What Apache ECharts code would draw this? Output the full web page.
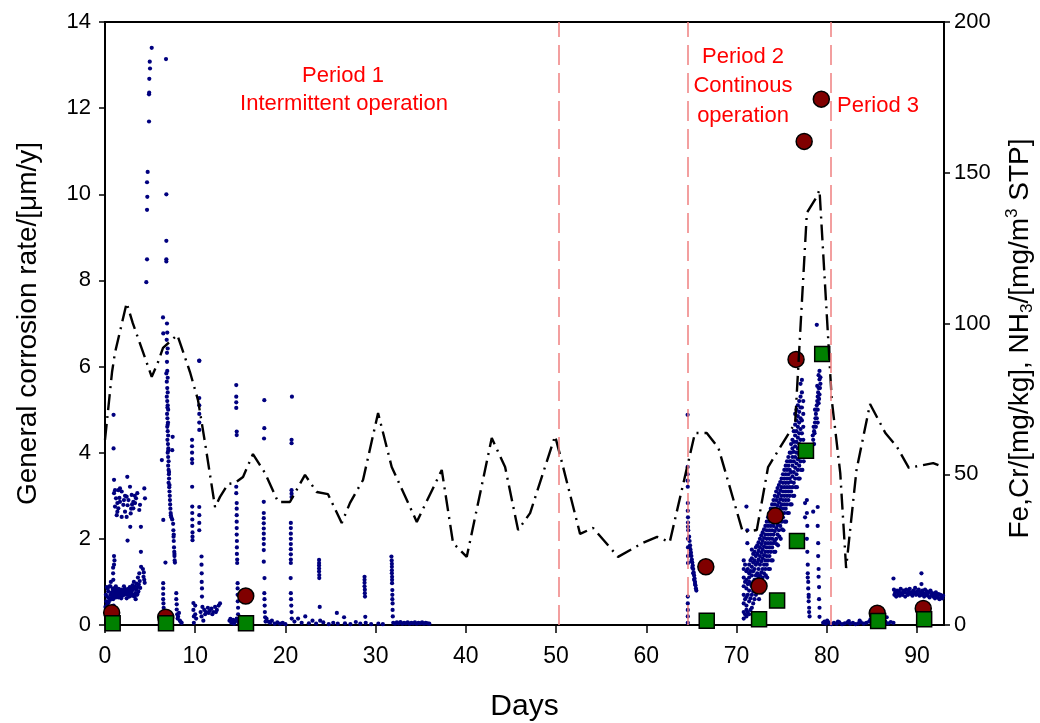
<!DOCTYPE html>
<html lang="en" style="height: 100%">

<head>
  <meta charset="utf-8">
</head>

<body style="height: 100%; margin: 0; background: #fff">
  <div id="container" style="width: 1040px; height: 723px"></div>

  <script type="text/javascript" src="https://cdn.jsdelivr.net/npm/echarts@6.0.0/dist/echarts.min.js"></script>
  <script type="text/javascript">
    // axis ticks
    var xTicks = [0, 10, 20, 30, 40, 50, 60, 70, 80, 90];

    // period boundaries (days)
    var periodBounds = [50.3, 64.55, 80.45];

    // NH3 (right axis), dash-dot line
    var nh3Days = [0, 0.78, 1.1, 2.4, 3.07, 5.18, 5.88, 6.43, 7.39, 8.02, 9.42, 10.31, 11.09, 12.2, 12.75, 13.64,
      14.41, 15.3, 16.4, 17.74, 19.18, 20.5, 22.17, 23.47, 24.72, 26.24, 27.16, 28.6, 30.27, 31.78, 34.56, 37.33,
      38.58, 40.1, 42.87, 44.35, 45.79, 47.12, 49.89, 50.44, 52.66, 54.1, 56.87, 59.6, 61.2, 62.6, 65.4, 66.7,
      68.0, 70.7, 72.25, 73.5, 76.5, 77.8, 78.8, 79.2, 80.56, 81.5, 82.15, 83.3, 84.8, 86.5, 87.8, 89.1, 91.8, 92.9];
    var nh3Vals = [61.4, 83.9, 90.2, 106.8, 100.2, 82.3, 87.2, 91.9, 94.5, 96.2, 83.9, 74.6, 60.4, 39.1, 42.5, 46.8,
      47.1, 49.1, 56.7, 50.4, 40.8, 40.8, 49.8, 44.1, 43.4, 33.8, 40.5, 48.1, 70.3, 52.4, 34.2, 51.4,
      27.2, 22.6, 62, 52.4, 31.5, 37.1, 62.7, 56.4, 30.2, 32.2, 22.6, 27.2, 29.2, 27.5, 63.7, 63.7,
      58.7, 30.8, 31.5, 52.4, 67, 136.7, 141.6, 144.3, 74.6, 50.4, 18.9, 51.4, 73.3, 63.7, 59, 52.1, 53.7, 52.4];

    // Fe (right axis), circles
    var feDays = [0.74, 6.73, 15.6, 66.6, 72.5, 74.3, 76.6, 77.5, 79.4, 85.6, 90.7];
    var feVals = [4.1, 2.6, 9.6, 19.3, 12.9, 36.2, 88.1, 160.4, 174.4, 3.9, 5.5];

    // Cr (right axis), squares
    var crDays = [0.85, 6.76, 15.63, 66.7, 72.5, 74.5, 76.7, 77.7, 79.5, 85.7, 90.8];
    var crVals = [0.56, 0.56, 0.56, 1.4, 1.9, 8.1, 27.9, 57.8, 89.9, 1.3, 1.9];

    // general corrosion rate (left axis), [day, rate]
    var ratePeriod1 = [
      [0.05, 0.42], [0.1, 0.7], [0.15, 0.55], [0.2, 0.88], [0.25, 0.48], [0.3, 0.65], [0.35, 0.78], [0.4, 0.52],
      [0.45, 0.62], [0.5, 0.9], [0.55, 0.58], [0.6, 0.7], [0.65, 1.0], [0.7, 0.62], [0.75, 0.76], [0.8, 0.68],
      [0.85, 0.84], [0.9, 0.6], [0.95, 0.74], [1.0, 0.8], [1.05, 0.66], [1.1, 0.86], [1.15, 0.7], [1.2, 0.64],
      [1.25, 0.78], [1.3, 0.72], [1.35, 0.82], [1.4, 0.68], [1.45, 0.76], [1.5, 0.84], [1.55, 0.7], [1.6, 0.74],
      [1.65, 0.8], [1.7, 0.66], [1.75, 0.76], [1.8, 0.82], [1.85, 0.72], [1.9, 0.78], [1.95, 0.68], [2.0, 0.74],
      [2.05, 0.8], [2.1, 0.7], [2.15, 0.76], [2.2, 0.84], [2.25, 0.72], [2.3, 0.78], [2.35, 0.82], [2.4, 0.74],
      [2.45, 0.7], [2.5, 0.8], [2.55, 0.76], [2.6, 0.84], [2.65, 0.72], [2.7, 0.8], [2.75, 0.88], [2.8, 0.76],
      [2.85, 0.82], [2.9, 0.74], [2.95, 0.86], [3.0, 0.8], [3.05, 0.92], [3.1, 0.7], [3.15, 0.84], [3.2, 1.0],
      [3.25, 0.66], [3.3, 0.9], [3.35, 0.74], [3.4, 0.6], [3.45, 0.82], [3.5, 0.96], [3.55, 0.7], [3.6, 0.88],
      [3.65, 1.1], [3.7, 0.78], [3.75, 0.94], [3.8, 1.2], [3.85, 1.02], [3.9, 0.86],
      [0.3, 0.85], [0.6, 0.9], [0.9, 0.82], [1.2, 0.9], [1.5, 0.64], [1.8, 0.62], [2.1, 0.9], [2.4, 0.62],
      [2.7, 0.66], [3.0, 0.68], [3.3, 0.7], [3.6, 0.72],
      [0.75, 0.15], [0.85, 0.3], [0.95, 0.45], [1.05, 0.2], [1.1, 0.1], [1.2, 0.35],
      [0.95, 4.88], [0.95, 4.1], [1.0, 3.37], [1.05, 1.5], [0.9, 1.33], [0.9, 1.2], [0.92, 1.05], [1.0, 1.6], [1.0, 1.4],
      [1.11, 3.13], [1.48, 3.13], [1.66, 3.17], [1.85, 3.1], [1.0, 3.06], [1.22, 2.94], [1.37, 2.83], [1.11, 2.75],
      [1.48, 2.71], [1.66, 2.86], [2.03, 2.79], [2.22, 3.0], [2.4, 2.98], [2.77, 3.21], [2.96, 3.02], [3.14, 2.86],
      [3.33, 2.83], [3.14, 2.71], [3.44, 2.94], [3.58, 3.06], [3.8, 2.67], [3.88, 2.79], [4.36, 3.17], [4.43, 2.94],
      [2.22, 2.63], [1.85, 2.51], [2.4, 2.51], [2.85, 2.59], [1.37, 2.63], [1.3, 2.55], [2.6, 2.9], [2.5, 2.78],
      [3.0, 2.8], [1.6, 2.95], [2.9, 2.7], [3.3, 3.0], [2.1, 2.9], [2.47, 3.44],
      [2.8, 2.28], [2.5, 1.96], [3.98, 1.7], [3.98, 2.28], [4.0, 1.35], [4.27, 1.12], [4.3, 1.22], [4.35, 1.05],
      [4.4, 0.98], [4.2, 1.3],
      [5.18, 13.4], [4.96, 13.08], [4.99, 12.92], [4.91, 12.68], [4.88, 12.32], [4.9, 12.36], [4.88, 11.69],
      [4.73, 10.52], [4.66, 10.28], [4.69, 9.94], [4.66, 9.64], [4.66, 8.49], [4.58, 7.96],
      [6.76, 13.14], [6.8, 10.0], [6.8, 8.92], [6.8, 8.49], [6.8, 8.44], [6.43, 7.14], [6.87, 7.0], [6.46, 6.77],
      [6.9, 6.79], [6.84, 6.62], [6.95, 6.42], [6.87, 6.32], [6.87, 6.11], [6.8, 5.84], [6.95, 5.74], [10.45, 6.13],
      [6.85, 5.65], [6.9, 5.5], [6.95, 5.4], [6.85, 5.3], [6.9, 5.2], [6.95, 5.1], [7.0, 5.0], [6.88, 4.9],
      [6.92, 4.8], [6.98, 4.7], [6.9, 4.6], [6.95, 4.5], [7.0, 4.4], [6.92, 4.3], [6.98, 4.2], [7.02, 4.1],
      [6.95, 4.0], [7.0, 3.9], [7.05, 3.8], [7.0, 3.7], [7.05, 3.6], [7.08, 3.5], [7.1, 3.4], [7.05, 3.3],
      [7.12, 3.2], [7.15, 3.1], [7.18, 3.0], [7.2, 2.9], [7.22, 2.8], [7.25, 2.7], [7.28, 2.6], [7.35, 2.5],
      [7.45, 2.45], [7.55, 2.35], [7.58, 2.2], [7.6, 2.05], [7.62, 1.95], [7.65, 1.8], [7.68, 1.7], [7.7, 1.6],
      [7.72, 1.5], [7.75, 1.45], [7.7, 1.65], [7.62, 2.1], [7.3, 2.55], [7.15, 3.25], [7.1, 3.55], [7.02, 4.05],
      [6.95, 4.65], [6.92, 5.05], [7.5, 4.37], [7.45, 4.06], [6.3, 3.83], [6.46, 2.44], [6.7, 1.45], [6.9, 5.9],
      [6.45, 0.97], [6.45, 0.85], [6.45, 0.72], [6.45, 0.6], [6.48, 0.5], [6.5, 0.4], [6.5, 0.3], [6.52, 0.2],
      [6.55, 0.12], [7.9, 0.74], [7.9, 0.6], [7.95, 0.48], [7.95, 0.36], [8.0, 0.25], [8.05, 0.15], [8.2, 0.28],
      [8.3, 0.1], [8.4, 0.07], [8.1, 0.2], [8.5, 0.05],
      [9.65, 4.3], [9.65, 4.15], [9.65, 4.0], [9.65, 3.85], [9.66, 3.76], [9.66, 3.21], [9.67, 2.75], [9.67, 2.6],
      [9.68, 2.45], [9.68, 2.3], [9.7, 2.15], [9.7, 2.05], [9.7, 1.97], [10.45, 6.14], [10.45, 5.27], [10.45, 5.1],
      [10.45, 4.9], [10.45, 4.7], [10.45, 4.53], [10.45, 2.74], [10.45, 2.55], [10.45, 2.37], [10.45, 2.2],
      [10.7, 1.59], [10.7, 1.4], [10.72, 1.2], [10.72, 1.0], [10.75, 0.85], [10.75, 0.66], [9.8, 0.51], [9.8, 0.35],
      [9.85, 0.2], [9.85, 0.05], [10.0, 0.45], [10.0, 0.25], [10.1, 0.15],
      [10.6, 0.3], [10.8, 0.42], [11.0, 0.35], [11.2, 0.3], [11.4, 0.4], [11.6, 0.33], [11.8, 0.38], [12.0, 0.3],
      [12.2, 0.42], [12.4, 0.35], [12.6, 0.45], [12.75, 0.5], [11.1, 0.25], [11.5, 0.28], [11.9, 0.25], [12.3, 0.3],
      [10.7, 0.2], [10.9, 0.1],
      [13.8, 0.1], [14.0, 0.05], [14.2, 0.12], [14.4, 0.08], [14.6, 0.15], [14.8, 0.06], [15.0, 0.1], [15.2, 0.04],
      [13.9, 0.14], [14.1, 0.09], [14.3, 0.03], [14.7, 0.1], [15.1, 0.13],
      [14.55, 5.57], [14.55, 5.3], [14.55, 5.17], [14.55, 5.04], [14.6, 4.49], [14.6, 4.41], [14.55, 3.21],
      [14.55, 3.06], [14.6, 2.83], [14.6, 2.7], [14.6, 2.55], [14.6, 2.4], [14.6, 2.25], [14.6, 2.1], [14.62, 1.95],
      [14.62, 1.8], [14.62, 1.65], [14.65, 1.52], [14.65, 1.44], [14.7, 0.97], [14.7, 0.85], [14.7, 0.7],
      [14.72, 0.55], [14.75, 0.4], [14.75, 0.25], [14.8, 0.12],
      [17.66, 5.22], [17.66, 4.57], [17.63, 4.33], [17.6, 2.86], [17.6, 2.6], [17.6, 2.48], [17.6, 2.36],
      [17.6, 2.24], [17.6, 2.12], [17.6, 2.0], [17.6, 1.88], [17.6, 1.74], [17.6, 1.47], [17.68, 1.09],
      [17.66, 0.74], [17.68, 0.6], [17.7, 0.45], [17.72, 0.3], [17.75, 0.18], [17.8, 0.08],
      [17.9, 0.15], [18.1, 0.08], [18.3, 0.05], [18.5, 0.1], [18.8, 0.03], [19.1, 0.06], [19.4, 0.03], [19.7, 0.05],
      [20.0, 0.02],
      [20.72, 5.3], [20.68, 4.3], [20.68, 4.22], [20.68, 3.13], [20.68, 3.05], [20.68, 2.97], [20.6, 2.37],
      [20.6, 2.25], [20.6, 2.12], [20.6, 2.0], [20.6, 1.88], [20.6, 1.76], [20.6, 1.64], [20.6, 1.52], [20.6, 1.44],
      [20.58, 1.09], [20.6, 0.74], [20.62, 0.6], [20.65, 0.45], [20.68, 0.3], [20.7, 0.15],
      [21.0, 0.08], [21.4, 0.15], [21.8, 0.05], [22.2, 0.2], [22.6, 0.04], [23.0, 0.1], [23.4, 0.03], [24.2, 0.06],
      [24.8, 0.02], [25.3, 0.05], [25.7, 0.28], [25.8, 0.03], [26.5, 0.18], [26.6, 0.04], [27.2, 0.02],
      [27.8, 0.07], [28.3, 0.03], [28.9, 0.05], [29.5, 0.02], [30.3, 0.03], [30.8, 0.02],
      [23.73, 1.51], [23.73, 1.44], [23.73, 1.38], [23.73, 1.31], [23.73, 1.24], [23.75, 1.16], [23.75, 1.09],
      [23.8, 0.42], [23.85, 0.1],
      [28.77, 1.12], [28.77, 1.05], [28.77, 0.98], [28.77, 0.9], [28.8, 0.82], [28.8, 0.74], [28.82, 0.66],
      [28.85, 0.19],
      [31.75, 1.59], [31.78, 1.5], [31.8, 1.42], [31.8, 1.35], [31.8, 1.27], [31.8, 1.2], [31.82, 1.12],
      [31.82, 1.05], [31.82, 0.97], [31.85, 0.81], [31.85, 0.7], [31.85, 0.6], [31.88, 0.5], [31.88, 0.35],
      [31.9, 0.2],
      [31.95, 0.05], [32.15, 0.03], [32.35, 0.06], [32.55, 0.04], [32.75, 0.07], [32.95, 0.03], [33.15, 0.05],
      [33.35, 0.04], [33.55, 0.06], [33.75, 0.03], [33.95, 0.05], [34.15, 0.04], [34.35, 0.06], [34.55, 0.03],
      [34.75, 0.05], [34.95, 0.04], [35.15, 0.06], [35.35, 0.03], [35.55, 0.05], [35.75, 0.04], [35.95, 0.03]
    ];

    var ratePeriod2 = [
      [64.58, 4.88], [64.58, 3.67], [64.58, 3.5], [64.58, 3.35], [64.6, 3.21], [64.6, 2.83], [64.6, 2.65],
      [64.62, 2.5], [64.62, 2.38], [64.62, 2.28], [64.65, 2.2], [64.62, 2.0], [64.62, 1.8], [64.62, 1.6],
      [64.62, 1.44], [64.6, 0.66], [64.6, 0.5], [64.6, 0.35], [64.6, 0.2], [64.6, 0.05],
      [64.75, 2.05], [64.8, 1.95], [64.85, 1.85], [64.9, 1.75], [64.95, 1.68], [65.0, 1.6], [65.05, 1.52],
      [65.1, 1.45], [65.15, 1.38], [65.2, 1.3], [65.25, 1.22], [65.3, 1.15], [65.35, 1.08], [65.4, 1.0],
      [65.45, 0.92], [65.5, 0.85], [65.55, 0.8], [64.8, 1.8], [64.9, 1.62], [65.0, 1.48], [65.1, 1.33],
      [65.2, 1.2], [65.3, 1.05], [65.4, 0.95],
      [70.8, 0.15], [70.8, 0.3], [70.8, 0.5], [70.8, 0.7], [70.8, 0.9], [70.8, 1.1], [70.8, 1.3], [70.8, 1.5],
      [71.1, 0.2], [71.1, 0.45], [71.1, 0.65], [71.1, 0.85], [71.1, 1.05], [71.1, 1.25], [71.1, 0.35],
      [71.4, 0.25], [71.4, 0.55], [71.4, 0.8], [71.4, 1.0], [71.4, 1.2], [71.4, 1.4], [71.4, 1.1],
      [71.7, 0.4], [71.7, 0.7], [71.7, 0.9], [71.7, 1.15], [71.7, 1.35], [71.7, 1.55], [71.7, 1.75],
      [72.0, 0.6], [72.0, 0.85], [72.0, 1.05], [72.0, 1.3], [72.0, 1.5], [72.0, 1.7],
      [72.3, 0.8], [72.3, 1.0], [72.3, 1.2], [72.3, 1.45], [72.3, 1.65], [72.3, 1.85],
      [72.6, 0.9], [72.6, 1.15], [72.6, 1.4], [72.6, 1.6], [72.6, 1.8], [72.6, 2.0],
      [72.9, 1.1], [72.9, 1.3], [72.9, 1.55], [72.9, 1.75], [72.9, 1.95], [72.9, 2.15],
      [73.2, 1.3], [73.2, 1.5], [73.2, 1.7], [73.2, 1.9], [73.2, 2.1], [73.2, 2.3],
      [73.5, 1.5], [73.5, 1.7], [73.5, 1.9], [73.5, 2.1], [73.5, 2.3], [73.5, 2.5],
      [73.8, 1.7], [73.8, 1.9], [73.8, 2.1], [73.8, 2.3], [73.8, 2.5], [73.8, 2.7],
      [74.1, 1.9], [74.1, 2.1], [74.1, 2.3], [74.1, 2.5], [74.1, 2.7], [74.1, 2.9],
      [74.4, 2.0], [74.4, 2.25], [74.4, 2.5], [74.4, 2.7], [74.4, 2.9], [74.4, 3.1],
      [74.7, 2.2], [74.7, 2.4], [74.7, 2.65], [74.7, 2.85], [74.7, 3.05], [74.7, 3.25],
      [75.0, 2.4], [75.0, 2.6], [75.0, 2.8], [75.0, 3.0], [75.0, 3.2], [75.0, 3.4],
      [75.3, 2.6], [75.3, 2.8], [75.3, 3.0], [75.3, 3.2], [75.3, 3.4], [75.3, 3.6],
      [75.6, 2.8], [75.6, 3.0], [75.6, 3.2], [75.6, 3.4], [75.6, 3.6], [75.6, 3.8],
      [75.9, 3.0], [75.9, 3.2], [75.9, 3.4], [75.9, 3.6], [75.9, 3.8], [75.9, 4.0],
      [76.2, 3.2], [76.2, 3.45], [76.2, 3.7], [76.2, 3.9], [76.2, 4.1], [76.2, 4.3],
      [76.5, 3.4], [76.5, 3.65], [76.5, 3.9], [76.5, 4.15], [76.5, 4.4], [76.5, 4.65], [76.5, 4.9],
      [76.8, 3.6], [76.8, 3.85], [76.8, 4.1], [76.8, 4.35], [76.8, 4.6], [76.8, 4.85], [76.8, 5.1],
      [77.1, 3.8], [77.1, 4.05], [77.1, 4.3], [77.1, 4.55], [77.1, 4.8], [77.1, 5.05], [77.1, 5.3], [77.1, 5.6],
      [77.4, 4.0], [77.4, 4.3], [77.4, 4.6], [77.4, 4.9], [77.4, 5.2],
      [70.95, 0.25], [70.95, 0.6], [70.95, 1.0], [70.95, 1.4],
      [71.25, 0.3], [71.25, 0.7], [71.25, 0.95], [71.25, 1.3],
      [71.55, 0.35], [71.55, 0.62], [71.55, 0.95], [71.55, 1.25], [71.55, 1.5],
      [71.85, 0.5], [71.85, 0.78], [71.85, 1.0], [71.85, 1.25], [71.85, 1.45], [71.85, 1.65],
      [72.15, 0.7], [72.15, 0.95], [72.15, 1.15], [72.15, 1.4], [72.15, 1.6], [72.15, 1.8],
      [72.45, 0.85], [72.45, 1.1], [72.45, 1.3], [72.45, 1.52], [72.45, 1.72], [72.45, 1.92],
      [72.75, 1.0], [72.75, 1.22], [72.75, 1.48], [72.75, 1.68], [72.75, 1.88], [72.75, 2.08],
      [73.05, 1.2], [73.05, 1.4], [73.05, 1.62], [73.05, 1.82], [73.05, 2.02], [73.05, 2.22],
      [73.35, 1.4], [73.35, 1.6], [73.35, 1.8], [73.35, 2.0], [73.35, 2.2], [73.35, 2.4],
      [73.65, 1.6], [73.65, 1.8], [73.65, 2.0], [73.65, 2.2], [73.65, 2.4], [73.65, 2.6],
      [73.95, 1.8], [73.95, 2.0], [73.95, 2.2], [73.95, 2.4], [73.95, 2.6], [73.95, 2.8],
      [74.25, 1.95], [74.25, 2.18], [74.25, 2.4], [74.25, 2.6], [74.25, 2.8], [74.25, 3.0],
      [74.55, 2.1], [74.55, 2.32], [74.55, 2.58], [74.55, 2.78], [74.55, 2.98], [74.55, 3.18],
      [74.85, 2.3], [74.85, 2.5], [74.85, 2.72], [74.85, 2.92], [74.85, 3.12], [74.85, 3.32],
      [75.15, 2.5], [75.15, 2.7], [75.15, 2.9], [75.15, 3.1], [75.15, 3.3], [75.15, 3.5],
      [75.45, 2.7], [75.45, 2.9], [75.45, 3.1], [75.45, 3.3], [75.45, 3.5], [75.45, 3.7],
      [75.75, 2.9], [75.75, 3.1], [75.75, 3.3], [75.75, 3.5], [75.75, 3.7], [75.75, 3.9],
      [76.05, 3.1], [76.05, 3.32], [76.05, 3.55], [76.05, 3.8], [76.05, 4.0], [76.05, 4.2],
      [76.35, 3.3], [76.35, 3.55], [76.35, 3.8], [76.35, 4.02], [76.35, 4.25], [76.35, 4.5],
      [76.65, 3.5], [76.65, 3.75], [76.65, 4.0], [76.65, 4.25], [76.65, 4.5], [76.65, 4.75], [76.65, 5.0],
      [76.95, 3.7], [76.95, 3.95], [76.95, 4.2], [76.95, 4.45], [76.95, 4.7], [76.95, 4.95], [76.95, 5.2],
      [77.25, 3.9], [77.25, 4.15], [77.25, 4.45], [77.25, 4.75], [77.25, 5.05], [77.25, 5.4], [77.25, 5.69],
      [72.5, 0.6], [72.8, 0.75], [73.1, 0.95], [73.4, 1.1], [73.7, 1.3], [74.0, 1.5], [74.3, 1.7], [74.6, 1.85],
      [74.9, 2.0], [75.2, 2.2], [75.5, 2.4], [75.8, 2.6], [76.1, 2.8], [76.4, 3.0], [76.7, 3.2], [77.0, 3.4],
      [77.3, 3.6], [77.5, 3.9],
      [72.65, 0.8], [72.95, 0.95], [73.25, 1.15], [73.55, 1.3], [73.85, 1.5], [74.15, 1.7], [74.45, 1.88],
      [74.75, 2.05], [75.05, 2.22], [75.35, 2.4], [75.65, 2.6], [75.95, 2.8], [76.25, 3.0], [76.55, 3.2],
      [76.85, 3.4], [77.15, 3.6], [77.45, 3.8],
      [71.1, 2.75], [71.2, 2.2], [71.2, 1.9],
      [78.5, 4.3], [78.6, 4.5], [78.7, 4.7], [78.8, 4.9], [78.9, 5.1], [79.0, 5.3], [79.1, 5.5], [79.2, 5.7],
      [78.6, 4.2], [78.9, 4.8], [79.0, 5.0], [79.2, 5.35], [79.3, 5.6], [79.1, 5.8], [78.9, 6.97],
      [78.45, 4.4], [78.55, 4.6], [78.65, 4.45], [78.75, 4.8], [78.85, 5.0], [78.95, 5.2], [79.05, 5.4],
      [79.15, 5.25], [79.25, 5.5], [78.7, 5.0], [78.8, 4.6], [79.0, 4.7], [79.1, 5.15], [79.2, 5.9], [79.3, 5.75],
      [79.25, 6.3], [78.95, 5.55],
      [77.8, 2.9], [77.8, 2.6], [77.85, 2.3], [77.8, 2.0], [77.85, 1.7], [77.9, 1.4], [77.9, 1.2], [77.95, 1.0],
      [77.95, 0.85], [78.0, 0.7], [78.0, 0.55], [78.05, 0.4], [78.05, 0.3], [78.1, 0.2], [77.9, 1.1], [78.0, 0.65],
      [79.0, 2.74], [79.0, 2.3], [79.05, 1.9], [79.05, 1.6], [79.1, 1.3], [79.1, 1.12], [79.15, 0.88],
      [79.15, 0.6], [79.2, 0.4], [79.2, 0.19], [78.5, 2.63], [77.6, 2.83], [77.6, 2.5]
    ];

    var ratePeriod3 = [
      [79.6, 0.05], [79.9, 0.03], [80.2, 0.06], [80.5, 0.02], [80.8, 0.05], [81.1, 0.03], [81.4, 0.06],
      [81.7, 0.02], [82.0, 0.04], [82.3, 0.06], [82.6, 0.03], [82.9, 0.05], [83.2, 0.02], [83.5, 0.04],
      [83.8, 0.06], [84.1, 0.03], [84.4, 0.05], [84.7, 0.08], [85.0, 0.04], [85.3, 0.1], [85.6, 0.06],
      [85.9, 0.12], [86.2, 0.05], [86.5, 0.08], [86.8, 0.04], [87.1, 0.07], [87.4, 0.05], [79.75, 0.08],
      [80.05, 0.1], [81.25, 0.08], [82.45, 0.09], [83.65, 0.1], [84.85, 0.13], [86.05, 0.15], [86.65, 0.18],
      [87.4, 1.08], [87.45, 0.82], [87.5, 0.7], [87.6, 0.76], [87.7, 0.66], [87.8, 0.8], [87.9, 0.72], [88.0, 0.78],
      [88.1, 0.68], [88.2, 0.84], [88.3, 0.74], [88.4, 0.7], [88.5, 0.8], [88.6, 0.76], [88.7, 0.66], [88.8, 0.82],
      [88.9, 0.74], [89.0, 0.7], [89.1, 0.78], [89.2, 0.84], [89.3, 0.72], [89.4, 0.76], [89.5, 0.68], [89.6, 0.8],
      [89.7, 0.74], [89.8, 0.86], [89.9, 0.7], [90.0, 0.78], [90.1, 0.72], [90.2, 0.82], [90.3, 0.68], [90.4, 0.76],
      [90.5, 1.2], [90.5, 0.95], [90.55, 0.7], [90.6, 0.8], [90.7, 0.74], [90.8, 0.66], [90.9, 0.82], [91.0, 0.72],
      [91.1, 0.78], [91.2, 0.68], [91.3, 0.76], [91.4, 0.64], [91.5, 0.8], [91.6, 0.7], [91.7, 0.74], [91.8, 0.66],
      [91.9, 0.72], [92.0, 0.62], [92.1, 0.76], [92.2, 0.68], [92.3, 0.64], [92.4, 0.72], [92.5, 0.6], [92.6, 0.7],
      [92.7, 0.66], [92.8, 0.62], [92.9, 0.68]
    ];

    var FONT = 'Liberation Sans, Arial, sans-serif';

    var dom = document.getElementById('container');
    var myChart = echarts.init(dom, null, { renderer: 'canvas' });

    function zip(xs, ys) {
      return xs.map(function (x, i) { return [x, ys[i]]; });
    }

    var rateDots = ratePeriod1.concat(ratePeriod2, ratePeriod3);

    var option = {
      animation: false,
      backgroundColor: '#fff',
      grid: {
        left: 105,
        right: 96,
        top: 22,
        bottom: 98,
        outerBoundsMode: 'none',
        show: true,
        borderColor: '#000',
        borderWidth: 2
      },
      xAxis: {
        type: 'value',
        min: 0,
        max: 93,
        name: 'Days',
        nameLocation: 'middle',
        nameGap: 67,
        nameTextStyle: { fontFamily: FONT, fontSize: 30, color: '#000' },
        axisLine: { lineStyle: { color: '#000', width: 2 } },
        axisTick: { customValues: xTicks, length: 8, lineStyle: { width: 1.5 } },
        axisLabel: { customValues: xTicks, margin: 20, fontFamily: FONT, fontSize: 23, color: '#000' },
        splitLine: { show: false }
      },
      yAxis: [
        {
          type: 'value',
          min: 0,
          max: 14,
          interval: 2,
          name: 'General corrosion rate/[μm/y]',
          nameLocation: 'middle',
          nameGap: 63,
          nameTextStyle: { fontFamily: FONT, fontSize: 28, color: '#000' },
          axisLine: { show: true, lineStyle: { color: '#000', width: 2 } },
          axisTick: { show: true, length: 6, lineStyle: { width: 1.5 } },
          axisLabel: { margin: 14, fontFamily: FONT, fontSize: 22, color: '#000' },
          splitLine: { show: false }
        },
        {
          type: 'value',
          min: 0,
          max: 200,
          interval: 50,
          position: 'right',
          name: 'Fe,Cr/[mg/kg], NH{sub|3}/[mg/m{sup|3} STP]',
          nameLocation: 'middle',
          nameGap: 60,
          nameRotate: 90,
          nameTextStyle: {
            fontFamily: FONT, fontSize: 28, color: '#000', lineHeight: 32,
            padding: [0, 30, 0, 0],
            rich: {
              sub: { fontFamily: FONT, fontSize: 17, color: '#000', lineHeight: 32, verticalAlign: 'bottom' },
              sup: { fontFamily: FONT, fontSize: 17, color: '#000', lineHeight: 32, verticalAlign: 'top' }
            }
          },
          axisLine: { show: true, lineStyle: { color: '#000', width: 2 } },
          axisTick: { show: true, length: 6, lineStyle: { width: 1.5 } },
          axisLabel: { margin: 10, fontFamily: FONT, fontSize: 22, color: '#000' },
          splitLine: { show: false }
        }
      ],
      graphic: [
        { type: 'text', x: 343, y: 76, style: { text: 'Period 1', fill: '#ff0000', font: '22px ' + FONT, align: 'center', verticalAlign: 'middle' } },
        { type: 'text', x: 344, y: 104, style: { text: 'Intermittent operation', fill: '#ff0000', font: '22px ' + FONT, align: 'center', verticalAlign: 'middle' } },
        { type: 'text', x: 743, y: 57, style: { text: 'Period 2', fill: '#ff0000', font: '22px ' + FONT, align: 'center', verticalAlign: 'middle' } },
        { type: 'text', x: 743, y: 86, style: { text: 'Continous', fill: '#ff0000', font: '22px ' + FONT, align: 'center', verticalAlign: 'middle' } },
        { type: 'text', x: 743, y: 116, style: { text: 'operation', fill: '#ff0000', font: '22px ' + FONT, align: 'center', verticalAlign: 'middle' } },
        { type: 'text', x: 878, y: 106, style: { text: 'Period 3', fill: '#ff0000', font: '22px ' + FONT, align: 'center', verticalAlign: 'middle' } }
      ],
      series: [
        {
          name: 'corrosion rate',
          type: 'scatter',
          yAxisIndex: 0,
          symbol: 'circle',
          symbolSize: 4.2,
          itemStyle: { color: '#00007f', opacity: 1 },
          data: rateDots,
          markLine: {
            silent: true,
            symbol: ['none', 'none'],
            label: { show: false },
            lineStyle: { color: '#f08080', width: 1.5, type: [20, 8] },
            data: periodBounds.map(function (d) { return { xAxis: d }; })
          }
        },
        {
          name: 'NH3',
          type: 'line',
          yAxisIndex: 1,
          showSymbol: false,
          symbol: 'none',
          lineStyle: { color: '#000', width: 2.4, type: [16, 6, 2, 6] },
          data: zip(nh3Days, nh3Vals)
        },
        {
          name: 'Fe',
          type: 'scatter',
          yAxisIndex: 1,
          symbol: 'circle',
          symbolSize: 16,
          itemStyle: { color: '#800000', borderColor: '#000', borderWidth: 1.5, opacity: 1 },
          data: zip(feDays, feVals)
        },
        {
          name: 'Cr',
          type: 'scatter',
          yAxisIndex: 1,
          symbol: 'rect',
          symbolSize: 15,
          itemStyle: { color: '#008000', borderColor: '#000', borderWidth: 1.5, opacity: 1 },
          data: zip(crDays, crVals)
        }
      ]
    };

    if (option && typeof option === 'object') {
      myChart.setOption(option);
    }

    window.addEventListener('resize', myChart.resize);
  </script>
</body>

</html>
